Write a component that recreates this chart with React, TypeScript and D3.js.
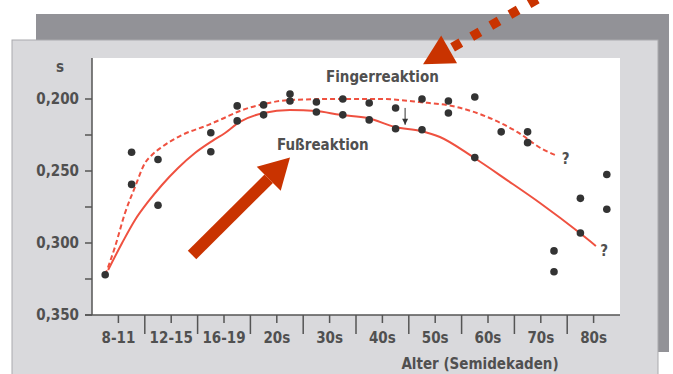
import React from "react";
import * as d3 from "d3";

// age groups on the axis, and the half-steps (semidecades) the dots sit on
const categories = ["8-11", "12-15", "16-19", "20s", "30s", "40s", "50s", "60s", "70s", "80s"];
const semidecades = [
    "8-9", "10-11", "12-13", "14-15", "16-17", "18-19", "20-24", "25-29", "30-34", "35-39",
    "40-44", "45-49", "50-54", "55-59", "60-64", "65-69", "70-74", "75-79", "80-84", "85-89"
];

// reaction times in seconds, null = no dot
const fingerDots = [
    null, 0.237, 0.242, null, 0.2234, 0.2048, 0.2041, 0.1966, 0.2021, 0.2,
    0.2028, 0.2062, 0.2, 0.2014, 0.1986, 0.2228, 0.2228, 0.3055, 0.269, 0.2524
];
const footDots = [
    0.322, 0.2593, 0.2738, null, 0.2366, 0.2152, 0.211, 0.2014, 0.209, 0.211,
    0.2145, 0.2207, 0.2214, 0.2097, 0.2407, null, 0.2303, 0.32, 0.2931, 0.2766
];

// fitted curves, age in semidecade units
const fingerCurveAge = [0, 0.37, 0.75, 1.13, 1.51, 1.77, 2.15, 2.91, 3.89, 4.42, 5.1, 6, 7, 8.6, 10.4, 11.9, 13.3, 14.46, 15.6, 16.6, 17.1];
const fingerCurve = [0.3222, 0.3028, 0.2792, 0.2611, 0.2444, 0.2389, 0.2333, 0.225, 0.2181, 0.2139, 0.2083, 0.2035, 0.2007, 0.2, 0.2, 0.2021, 0.2055, 0.2124, 0.2228, 0.2352, 0.2393];
const footCurveAge = [0.11, 0.64, 1.13, 1.62, 2.15, 2.76, 3.4, 4.05, 4.54, 5.1, 6, 7, 8, 8.9, 9.95, 10.98, 11.96, 12.68, 13.93, 15.22, 16.47, 17.98, 18.59];
const footCurve = [0.3188, 0.3, 0.284, 0.2715, 0.2597, 0.2479, 0.2375, 0.2292, 0.2236, 0.2159, 0.2097, 0.2076, 0.2083, 0.211, 0.2132, 0.2194, 0.2222, 0.2264, 0.2403, 0.2563, 0.2722, 0.2931, 0.3021];

const yTicks = [0.2, 0.25, 0.3, 0.35];
const yTickLabels = ["0,200", "0,250", "0,300", "0,350"];
const yMinorTicks = [0.225, 0.275, 0.325];

const layout = {
    width: 673,
    height: 374,
    left: 92,
    right: 620,
    top: 58,
    bottom: 315
};

const font = "'Liberation Sans Narrow', 'Arial Narrow', 'DejaVu Sans Condensed', sans-serif";
const textColor = "#505050";
const curveColor = "#ef5140";
const arrowColor = "#c93300";

const App = () => {
    const xCat = d3.scaleBand().domain(categories).range([layout.left, layout.right]);
    const xAge = d3.scaleLinear().domain([-0.5, semidecades.length - 0.5]).range([layout.left, layout.right]);
    const y = d3.scaleLinear().domain([0.2, 0.35]).range([99, layout.bottom]);

    const line = d3
        .line<[number, number]>()
        .x(d => xAge(d[0]))
        .y(d => y(d[1]))
        .curve(d3.curveMonotoneX);

    const fingerPath = line(fingerCurveAge.map((a, i) => [a, fingerCurve[i]]));
    const footPath = line(footCurveAge.map((a, i) => [a, footCurve[i]]));

    const dots = [...fingerDots, ...footDots]
        .map((v, i) => ({ k: i % semidecades.length, v }))
        .filter(d => d.v !== null);

    // big solid arrow pointing at "Fußreaktion"
    const a1 = { x0: xAge(3.29), y0: y(0.3083), x1: xAge(7.0), y1: y(0.2407) };
    const a1Ang = Math.atan2(a1.y1 - a1.y0, a1.x1 - a1.x0);
    const a1Head = 30;
    const a1bx = a1.x1 - a1Head * Math.cos(a1Ang);
    const a1by = a1.y1 - a1Head * Math.sin(a1Ang);
    const px = -Math.sin(a1Ang);
    const py = Math.cos(a1Ang);

    // dotted arrow pointing at "Fingerreaktion"
    const a2 = { x0: xAge(16.9), y0: y(0.125), x1: xAge(12.04), y1: y(0.1759) };
    const a2Ang = Math.atan2(a2.y1 - a2.y0, a2.x1 - a2.x0);
    const a2Head = 30;
    const a2bx = a2.x1 - a2Head * Math.cos(a2Ang);
    const a2by = a2.y1 - a2Head * Math.sin(a2Ang);
    const qx = -Math.sin(a2Ang);
    const qy = Math.cos(a2Ang);

    // little marker arrow between the 45-49 dots
    const mx = xAge(11.36);

    const txt = { fontFamily: font, fontSize: 15, fontWeight: "bold", fill: textColor };

    return (
        <svg
            width={layout.width}
            height={layout.height}
            style={{ position: "absolute", left: 0, top: 0, background: "#fff" }}
        >
            <rect x={36} y={14} width={633} height={338} fill="#929297" />
            <rect x={12} y={40} width={646} height={345} fill="#d9d9dc" stroke="#a9a9ad" strokeWidth={1} />
            <rect
                x={layout.left}
                y={layout.top}
                width={layout.right - layout.left}
                height={layout.bottom - layout.top}
                fill="#ffffff"
            />

            {/* y axis */}
            <line x1={layout.left} y1={layout.top} x2={layout.left} y2={layout.bottom} stroke="#555" strokeWidth={1.5} />
            {[...yTicks, ...yMinorTicks].map(t => (
                <line key={t} x1={layout.left - 7} x2={layout.left} y1={y(t)} y2={y(t)} stroke="#555" strokeWidth={1.5} />
            ))}
            {yTicks.map((t, i) => (
                <text key={t} x={79} y={y(t)} dy="0.36em" textAnchor="end" {...txt}>
                    {yTickLabels[i]}
                </text>
            ))}
            <text x={60} y={72} textAnchor="middle" {...txt}>
                s
            </text>

            {/* x axis */}
            <line x1={layout.left - 7} y1={layout.bottom} x2={layout.right} y2={layout.bottom} stroke="#555" strokeWidth={1.5} />
            {categories.map(c => (
                <line
                    key={c}
                    x1={xCat(c) + xCat.bandwidth() / 2}
                    x2={xCat(c) + xCat.bandwidth() / 2}
                    y1={layout.bottom}
                    y2={layout.bottom + 8}
                    stroke="#555"
                    strokeWidth={1.5}
                />
            ))}
            {categories.slice(1).map(c => (
                <line key={c} x1={xCat(c)} x2={xCat(c)} y1={layout.bottom} y2={layout.bottom + 19} stroke="#555" strokeWidth={1.5} />
            ))}
            {categories.map(c => (
                <text key={c} x={xCat(c) + xCat.bandwidth() / 2} y={343} textAnchor="middle" {...txt}>
                    {c}
                </text>
            ))}
            <text x={480} y={369} textAnchor="middle" {...txt}>
                Alter (Semidekaden)
            </text>

            {/* curves */}
            <path d={fingerPath} fill="none" stroke={curveColor} strokeWidth={2} strokeDasharray="5 3" />
            <path d={footPath} fill="none" stroke={curveColor} strokeWidth={2} />

            {dots.map((d, i) => (
                <circle key={i} cx={xAge(d.k)} cy={y(d.v)} r={3.8} fill="#333" />
            ))}

            <line x1={mx} x2={mx} y1={y(0.2062)} y2={y(0.2179)} stroke="#333" strokeWidth={1} />
            <path
                d={`M${mx - 3},${y(0.2179) - 6}L${mx + 3},${y(0.2179) - 6}L${mx},${y(0.2179)}Z`}
                fill="#333"
            />

            <text x={xAge(17.1) + 5} y={y(0.2393) + 8} {...txt}>
                ?
            </text>
            <text x={xAge(18.6) + 4} y={y(0.3007) + 12} {...txt}>
                ?
            </text>

            <text x={326} y={82} {...txt}>
                Fingerreaktion
            </text>
            <text x={277} y={150} {...txt}>
                Fußreaktion
            </text>

            {/* annotation arrows */}
            <line x1={a1.x0} y1={a1.y0} x2={a1bx} y2={a1by} stroke={arrowColor} strokeWidth={12} />
            <path
                d={`M${a1.x1},${a1.y1}L${a1bx + 17 * px},${a1by + 17 * py}L${a1bx - 17 * px},${a1by - 17 * py}Z`}
                fill={arrowColor}
            />
            <line
                x1={a2bx}
                y1={a2by}
                x2={a2.x0}
                y2={a2.y0}
                stroke={arrowColor}
                strokeWidth={9.5}
                strokeDasharray="9.5 12.5"
                strokeDashoffset={18}
            />
            <path
                d={`M${a2.x1},${a2.y1}L${a2bx + 16 * qx},${a2by + 16 * qy}L${a2bx - 16 * qx},${a2by - 16 * qy}Z`}
                fill={arrowColor}
            />
        </svg>
    );
};

export default App;
